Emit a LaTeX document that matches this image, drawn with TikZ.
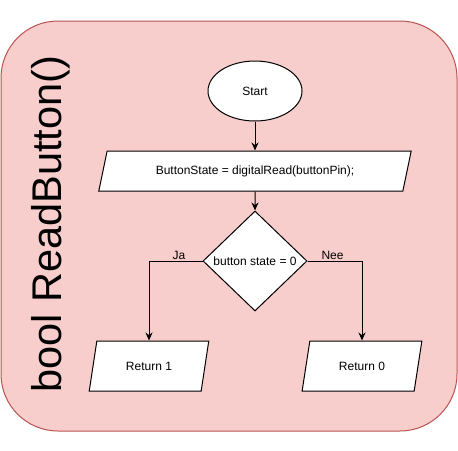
\documentclass[tikz,border=0pt]{standalone}
\usepackage{fontspec}
\setmainfont{Liberation Sans}
\usetikzlibrary{shapes.geometric,arrows.meta}
\definecolor{boxfill}{HTML}{F8CECC}
\definecolor{boxline}{HTML}{B85450}
\tikzstyle{startnode}=[ellipse,draw=black,fill=white,
                       inner sep=0pt,minimum width=94pt,minimum height=60pt]
\tikzstyle{ionode}=[trapezium,trapezium stretches=true,draw=black,fill=white,
                    inner sep=0pt]
\tikzstyle{decision}=[diamond,draw=black,fill=white,
                      inner sep=0pt,minimum width=104pt,minimum height=100pt]
\tikzstyle{flow}=[draw=black,line width=1pt,-{Stealth[length=8pt,width=7pt]}]

\begin{document}
\begin{tikzpicture}[x=1pt,y=-1pt,line width=1pt,font=\fontsize{12}{14}\selectfont]
    \useasboundingbox (0,0) rectangle (458,450);
    \draw[boxline,fill=boxfill,rounded corners=57pt] (1,21) rectangle (457,431);
    \node (title) at (61,224) [anchor=base,rotate=90,inner sep=0pt,
        font=\fontsize{41.5}{46}\selectfont]{bool ReadButton()};
    \node (start) at (255,91) [startnode]{Start};
    \node (read) at (255,171) [ionode,minimum width=313pt,minimum height=40pt,
        trapezium left angle=63.4,trapezium right angle=116.6]
        {ButtonState = digitalRead(buttonPin);};
    \node (cond) at (255,261) [decision,label=center:{button state = 0}]{};
    \node (ret1) at (149,366) [ionode,minimum width=120pt,minimum height=50pt,
        trapezium left angle=68.2,trapezium right angle=111.8]{Return 1};
    \node (ret0) at (362,366) [ionode,minimum width=120pt,minimum height=50pt,
        trapezium left angle=68.2,trapezium right angle=111.8]{Return 0};
    \draw[flow] (start) -- (read);
    \draw[flow] (read) -- (cond);
    \draw[flow] (cond.west) -| node[pos=0.22,above,inner sep=1pt]{Ja} (ret1.north);
    \draw[flow] (cond.east) -| node[pos=0.23,above,inner sep=1pt]{Nee} (ret0.north);
  \end{tikzpicture}
\end{document}
